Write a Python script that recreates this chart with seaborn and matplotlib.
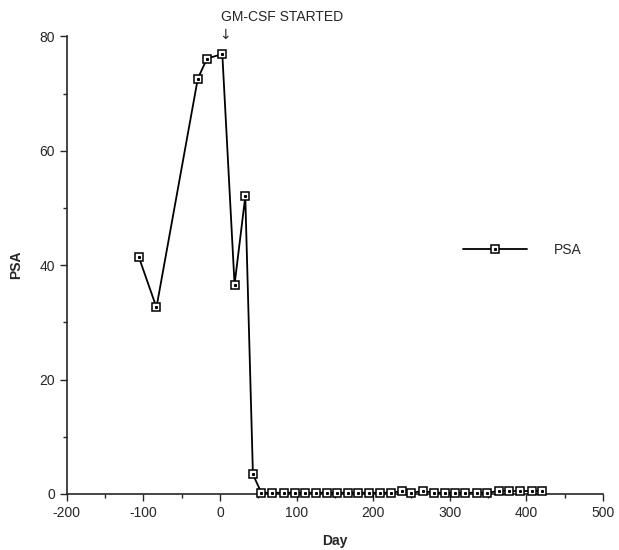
import numpy as np
import pandas as pd
import matplotlib
matplotlib.use("Agg")
import matplotlib.pyplot as plt
import seaborn as sns
from matplotlib.legend_handler import HandlerTuple
from matplotlib.ticker import MultipleLocator

# PSA readings by day (day 0 = GM-CSF started)
days = [-106, -83, -29, -17, 3, 19, 33, 43,
        54, 68, 83, 98, 111, 125, 140, 153, 167, 180, 195, 209, 223,
        238, 250, 265, 280, 294, 307, 320, 335, 349, 364, 377, 392, 407, 420]
psa = [41.4, 32.6, 72.6, 76.1, 76.9, 36.6, 52.0, 3.4,
       0.2, 0.2, 0.2, 0.2, 0.2, 0.2, 0.2, 0.2, 0.2, 0.2, 0.2, 0.2, 0.2,
       0.5, 0.2, 0.5, 0.2, 0.2, 0.2, 0.2, 0.2, 0.2, 0.5, 0.5, 0.5, 0.5, 0.5]

df = pd.DataFrame({"Day": days, "PSA": psa})

sns.set_style("ticks")
plt.rcParams["font.family"] = ["Liberation Sans", "DejaVu Sans"]
plt.rcParams["axes.unicode_minus"] = False

fig = plt.figure(figsize=(6.19, 5.5), dpi=100)
ax = fig.add_axes([0.108, 0.102, 0.866, 0.832])

sns.lineplot(data=df, x="Day", y="PSA", ax=ax, color="black", linewidth=1.3,
             marker="s", markersize=5.5, markerfacecolor="white",
             markeredgecolor="black", markeredgewidth=1.1, label="PSA",
             clip_on=False, zorder=3)
# little dot inside each square marker
ax.plot(df["Day"], df["PSA"], linestyle="none", marker="s", markersize=1.2,
        color="black", clip_on=False, zorder=4)

ax.set_xlim(-200, 500)
ax.set_ylim(0, 80)
ax.xaxis.set_major_locator(MultipleLocator(100))
ax.xaxis.set_minor_locator(MultipleLocator(50))
ax.yaxis.set_major_locator(MultipleLocator(20))
ax.yaxis.set_minor_locator(MultipleLocator(10))
ax.tick_params(axis="both", which="major", labelsize=10, length=5, width=1, direction="out")
ax.tick_params(axis="both", which="minor", length=3, width=1, direction="out")
sns.despine(ax=ax)
for sp in ["left", "bottom"]:
    ax.spines[sp].set_linewidth(1.2)

ax.set_xlabel("Day", fontsize=10, fontweight="bold", labelpad=10)
ax.set_ylabel("PSA", fontsize=10, fontweight="bold", labelpad=12)

ax.text(1, 83.4, "GM-CSF STARTED", fontsize=10, ha="left", va="center", clip_on=False)
ax.text(6, 80.3, "\u2193", fontsize=10, ha="center", va="center",
        family=["DejaVu Sans"], clip_on=False)

line_h = ax.get_lines()[0]
dot_h = ax.get_lines()[1]
ax.legend([(line_h, dot_h)], ["PSA"], handler_map={tuple: HandlerTuple(ndivide=1)},
          frameon=False, fontsize=10, handlelength=4.6, handletextpad=2.0,
          loc="center left", bbox_to_anchor=(0.715, 0.533))

fig.savefig("out.png", dpi=100)
